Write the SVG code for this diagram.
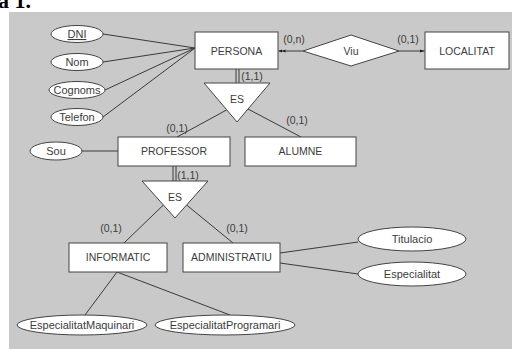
<svg xmlns="http://www.w3.org/2000/svg" width="512" height="349" viewBox="0 0 512 349">
<style>
.bg{fill:#c9c9c9}
.box{fill:#fff;stroke:#444;stroke-width:1}
.att{fill:#fff;stroke:#444;stroke-width:1}
.rel{fill:#fff;stroke:#444;stroke-width:1}
.ln{stroke:#3a3a3a;stroke-width:1;fill:none}
text{font-family:"Liberation Sans",Arial,sans-serif;font-size:10.5px;fill:#3c3c3c;text-anchor:middle}
.at{font-size:11px}
.lbl{font-size:10.5px}
.head{font-family:"Liberation Serif","Times New Roman",serif;font-weight:bold;font-size:22px;fill:#000;text-anchor:start}
</style>
<defs>
<marker id="dbl" markerUnits="userSpaceOnUse" viewBox="0 0 7 4" markerWidth="7" markerHeight="4" refX="7" refY="2" orient="auto">
<path d="M0,0.4 L3.5,2 L0,3.6Z M3.5,0.4 L7,2 L3.5,3.6Z" fill="#222"/>
</marker>
<marker id="one" markerUnits="userSpaceOnUse" viewBox="0 0 5 4" markerWidth="5" markerHeight="4" refX="5" refY="2" orient="auto">
<path d="M0,0.4 L5,2 L0,3.6Z" fill="#222"/>
</marker>
</defs>
<rect width="512" height="349" fill="#fff"/>
<text class="head" x="-2" y="8">a 1.</text>
<rect class="bg" x="9" y="12" width="503" height="337"/>

<g id="connectors">
<line class="ln" x1="103" y1="34" x2="195" y2="48"/>
<line class="ln" x1="103" y1="62" x2="195" y2="48"/>
<line class="ln" x1="105" y1="90" x2="195" y2="48"/>
<line class="ln" x1="103" y1="117" x2="195" y2="48"/>
<line class="ln" x1="236" y1="69" x2="236" y2="83"/>
<line class="ln" x1="239" y1="69" x2="239" y2="83"/>
<line class="ln" x1="303" y1="51" x2="278.5" y2="51" marker-end="url(#dbl)"/>
<line class="ln" x1="399" y1="51" x2="424.5" y2="51" marker-end="url(#one)"/>
<line class="ln" x1="226.5" y1="110" x2="177" y2="137"/>
<line class="ln" x1="248" y1="109" x2="301" y2="137"/>
<line class="ln" x1="82" y1="151" x2="118" y2="151"/>
<line class="ln" x1="173" y1="166" x2="173" y2="181"/>
<line class="ln" x1="176" y1="166" x2="176" y2="181"/>
<line class="ln" x1="163.4" y1="205" x2="124" y2="243"/>
<line class="ln" x1="186.6" y1="205" x2="233" y2="243"/>
<line class="ln" x1="117" y1="272" x2="85" y2="315"/>
<line class="ln" x1="117" y1="272" x2="230" y2="315"/>
<line class="ln" x1="280" y1="253" x2="358" y2="242"/>
<line class="ln" x1="280" y1="263" x2="358" y2="274"/>
<text class="lbl" x="252" y="80">(1,1)</text>
<text class="lbl" x="177" y="132">(0,1)</text>
<text class="lbl" x="297" y="124">(0,1)</text>
<text class="lbl" x="294" y="43">(0,n)</text>
<text class="lbl" x="408" y="43">(0,1)</text>
<text class="lbl" x="188" y="179">(1,1)</text>
<text class="lbl" x="111" y="232">(0,1)</text>
<text class="lbl" x="237" y="232">(0,1)</text>
</g>

<g id="PERSONA"><rect class="box" x="195" y="32" width="83" height="37"/><text x="236.5" y="55">PERSONA</text></g>
<g id="LOCALITAT"><rect class="box" x="425" y="32" width="84" height="37"/><text x="467" y="55">LOCALITAT</text></g>
<g id="Viu"><polygon class="rel" points="303,51 351,35 399,51 351,66"/><text x="351" y="55">Viu</text></g>
<g id="ES1"><polygon class="rel" points="204,83 270,83 237,122"/><text x="237" y="103">ES</text></g>
<g id="PROFESSOR"><rect class="box" x="118" y="137" width="112" height="29"/><text x="174" y="155">PROFESSOR</text></g>
<g id="ALUMNE"><rect class="box" x="245" y="137" width="111" height="29"/><text x="300.5" y="155">ALUMNE</text></g>
<g id="ES2"><polygon class="rel" points="142,181 208,181 175,218"/><text x="175" y="201">ES</text></g>
<g id="INFORMATIC"><rect class="box" x="69" y="243" width="98" height="29"/><text x="118" y="261">INFORMATIC</text></g>
<g id="ADMINISTRATIU"><rect class="box" x="183" y="243" width="97" height="29"/><text x="231.5" y="261">ADMINISTRATIU</text></g>

<g id="DNI"><ellipse class="att" cx="77" cy="34" rx="26" ry="8.5"/><text class="at" x="77" y="38" text-decoration="underline">DNI</text></g>
<g id="Nom"><ellipse class="att" cx="77" cy="62" rx="26" ry="8.5"/><text class="at" x="77" y="66">Nom</text></g>
<g id="Cognoms"><ellipse class="att" cx="77" cy="90" rx="28" ry="8.5"/><text class="at" x="77" y="94">Cognoms</text></g>
<g id="Telefon"><ellipse class="att" cx="77" cy="117" rx="26" ry="8.5"/><text class="at" x="77" y="121">Telefon</text></g>
<g id="Sou"><ellipse class="att" cx="56" cy="151" rx="26" ry="9"/><text class="at" x="56" y="155">Sou</text></g>
<g id="Titulacio"><ellipse class="att" cx="412" cy="239" rx="54" ry="12"/><text class="at" x="412" y="243">Titulacio</text></g>
<g id="Especialitat"><ellipse class="att" cx="412" cy="274" rx="54" ry="12"/><text class="at" x="412" y="278">Especialitat</text></g>
<g id="EspecialitatMaquinari"><ellipse class="att" cx="82" cy="325" rx="65" ry="10"/><text class="at" x="82" y="329">EspecialitatMaquinari</text></g>
<g id="EspecialitatProgramari"><ellipse class="att" cx="225" cy="325" rx="70" ry="10"/><text class="at" x="225" y="329">EspecialitatProgramari</text></g>
</svg>
